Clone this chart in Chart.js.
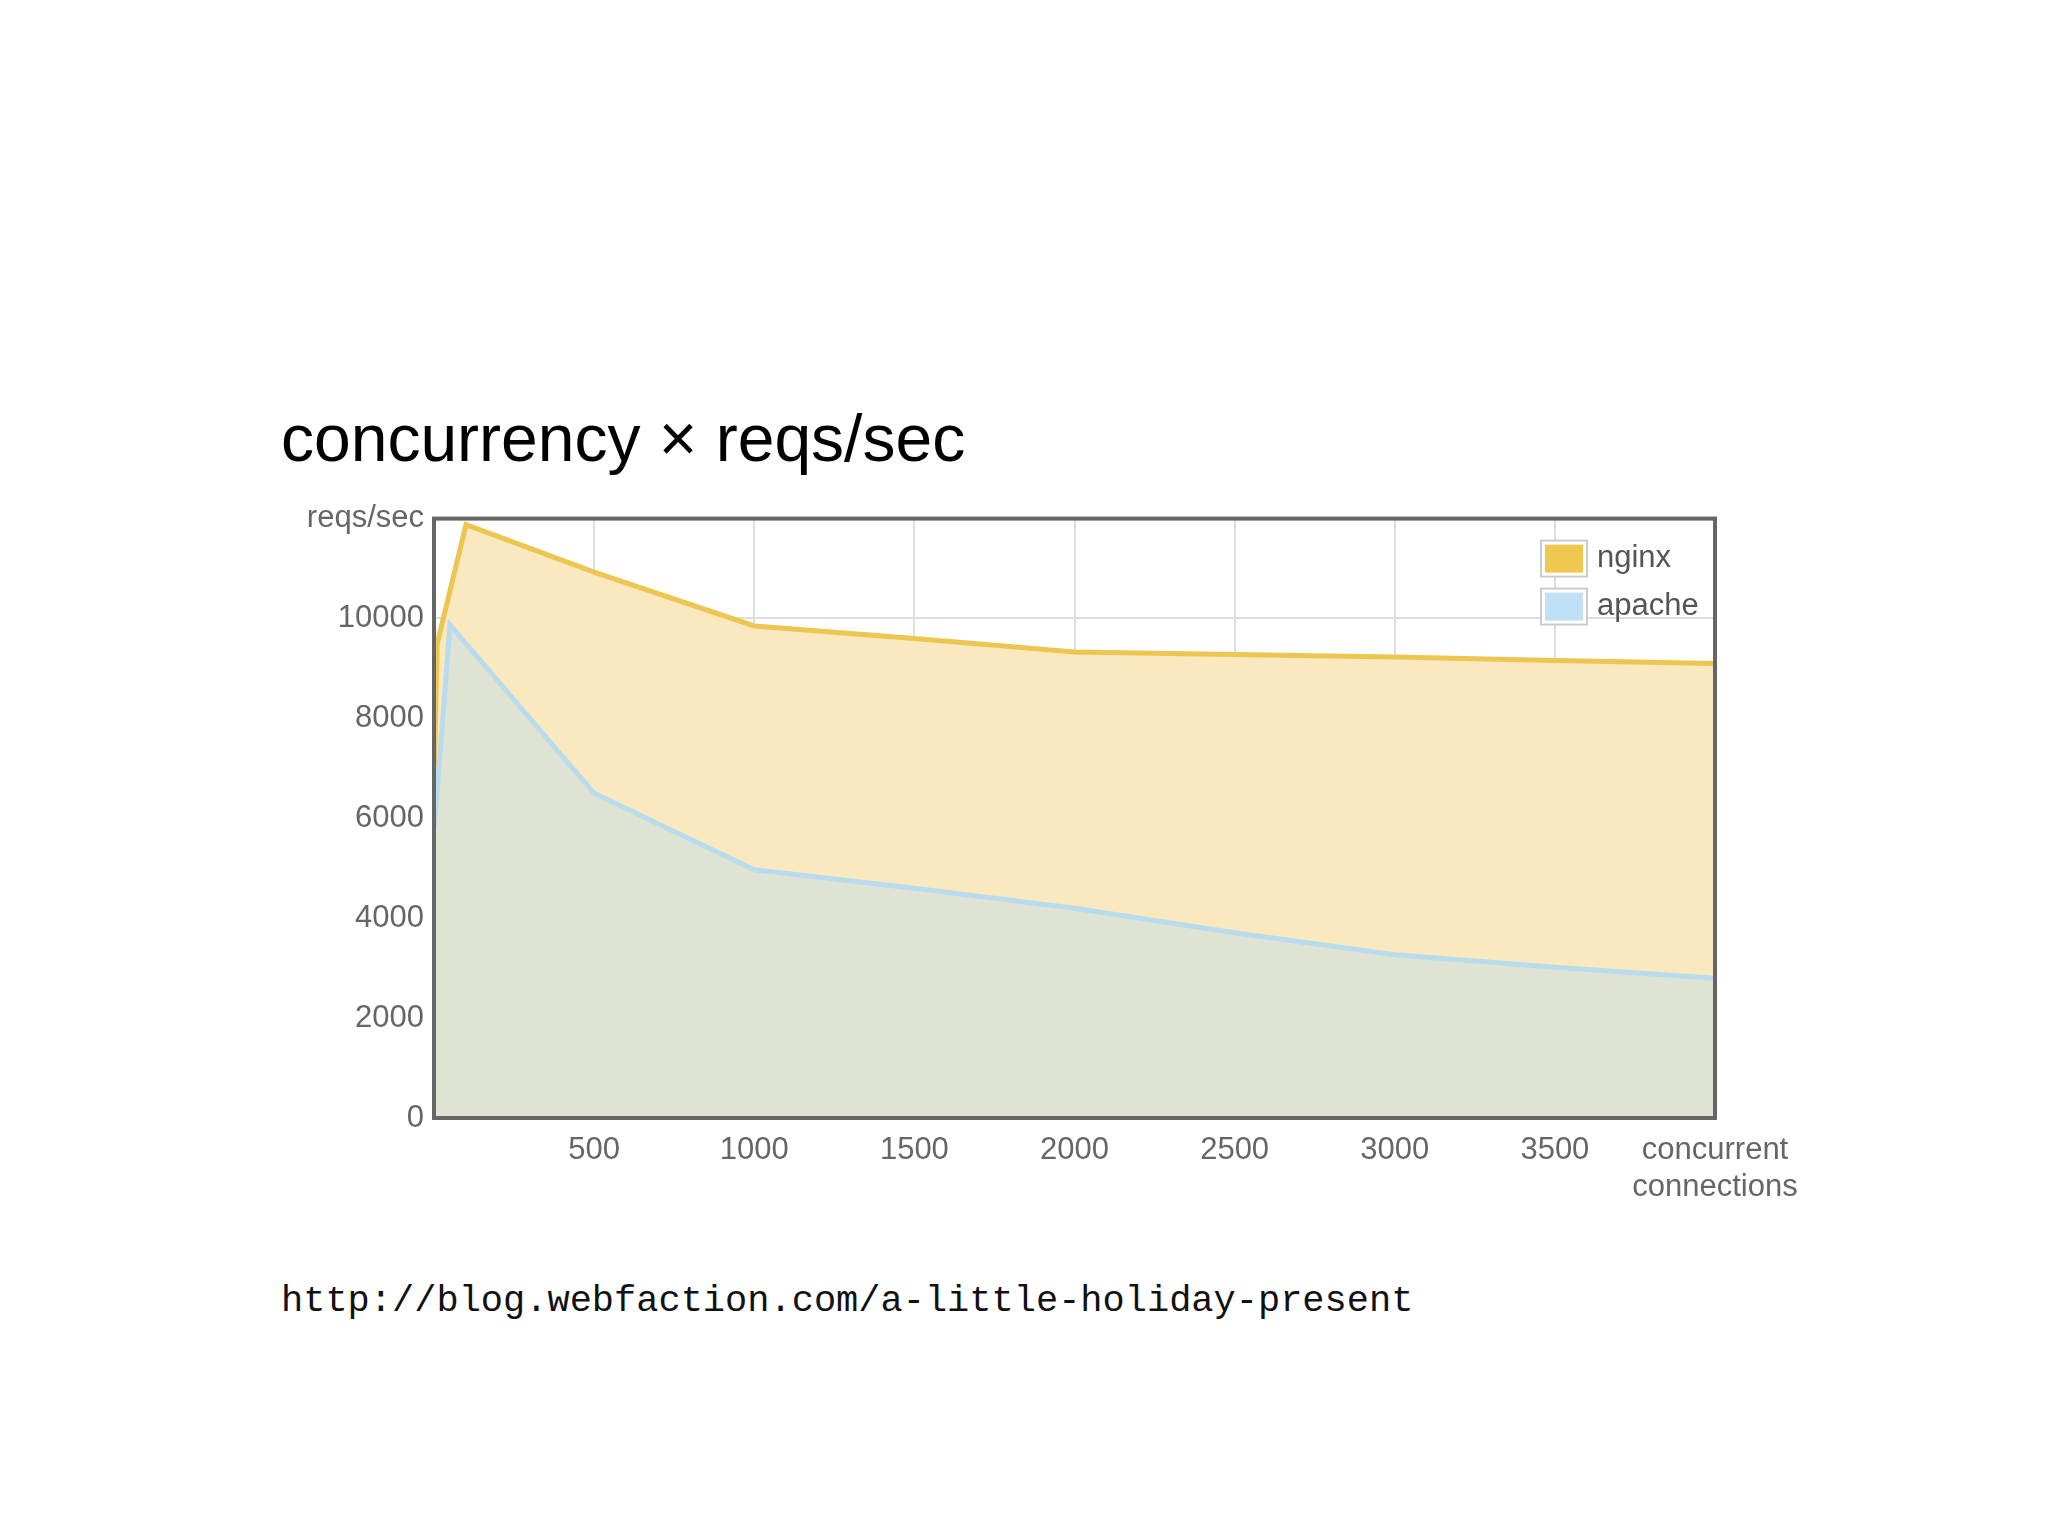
<!DOCTYPE html>
<html><head><meta charset="utf-8">
<script src="https://cdn.jsdelivr.net/npm/chart.js@4"></script>
<style>
body{margin:0;background:#fff;width:2048px;height:1536px;position:relative;overflow:hidden;font-family:"Liberation Sans",Arial,sans-serif}
#title{position:absolute;left:281px;top:400px;font-size:66px;color:#000}
#foot{position:absolute;left:281px;top:1280px;font-family:"Liberation Mono","DejaVu Sans Mono",monospace;font-size:37px;color:#111}
#wrap{position:absolute;left:250px;top:490px;width:1600px;height:740px}
</style></head><body>
<div id="title">concurrency × reqs/sec</div>
<div id="wrap"><canvas id="c" width="1600" height="740" style="width:1600px;height:740px"></canvas></div>
<div id="foot">http://blog.webfaction.com/a-little-holiday-present</div>
<script>
const connections = [1, 10, 100, 500, 1000, 1500, 2000, 2500, 3000, 3500, 4000];
const nginx = [7000, 9500, 11880, 10930, 9850, 9600, 9330, 9280, 9230, 9160, 9100];
const apacheX = [1, 50, 500, 1000, 1500, 2000, 2500, 3000, 3500, 4000];
const apache = [5820, 9870, 6500, 4970, 4600, 4200, 3710, 3270, 3020, 2800];
const yTicks = [0, 2000, 4000, 6000, 8000, 10000];
const xTicks = [500, 1000, 1500, 2000, 2500, 3000, 3500, 4000];

const legendPlugin = {
  id:'lg',
  afterDraw(ch){
    const c=ch.ctx, a=ch.chartArea;
    const items=[['nginx','#f0c850'],['apache','#bfe0f7']];
    c.save();
    c.font='31px "Liberation Sans", Arial, sans-serif';
    c.textBaseline='middle';
    items.forEach((it,i)=>{
      const x=a.right-170, y=a.top+40+i*48;
      c.fillStyle='#fff'; c.fillRect(x-4,y-18,46,36);
      c.strokeStyle='#ccc'; c.lineWidth=2; c.strokeRect(x-4,y-18,46,36);
      c.fillStyle=it[1]; c.fillRect(x,y-14,38,28);
      c.fillStyle='#555'; c.fillText(it[0],x+52,y);
    });
    c.restore();
  }
};
const borderPlugin={id:'bd',afterDraw(ch){const c=ch.ctx,a=ch.chartArea;c.save();c.strokeStyle='#666';c.lineWidth=4;c.strokeRect(a.left,a.top,a.right-a.left,a.bottom-a.top);c.restore();}};

new Chart(document.getElementById('c'),{
  type:'line',
  data:{datasets:[
    {label:'apache',data:apacheX.map((x,i)=>({x,y:apache[i]})),borderColor:'#b8dcee',backgroundColor:'#dfe3d3',fill:'origin',borderWidth:5,pointRadius:0,tension:0,order:0},
    {label:'nginx',data:connections.map((x,i)=>({x,y:nginx[i]})),borderColor:'#ecc650',backgroundColor:'#fae8bf',fill:'origin',borderWidth:5,pointRadius:0,tension:0,order:1}
  ]},
  plugins:[legendPlugin,borderPlugin],
  options:{
    responsive:false,animation:false,devicePixelRatio:1,
    layout:{padding:{top:19,right:135,left:0,bottom:0}},
    plugins:{legend:{display:false},tooltip:{enabled:false}},
    scales:{
      x:{type:'linear',min:0,max:4000,
        afterBuildTicks(s){s.ticks=xTicks.map(v=>({value:v}));},
        afterFit(s){s.height=112;},
        grid:{color:'#dedede',lineWidth:2,drawTicks:false},border:{display:false},
        ticks:{color:'#666',font:{size:31,family:'"Liberation Sans", Arial'},padding:14,maxRotation:0,autoSkip:false,
          callback:v=>v===4000?['concurrent','connections']:String(v)}},
      y:{min:0,max:12000,
        afterBuildTicks(s){s.ticks=yTicks.concat([12000]).map(v=>({value:v}));},
        afterFit(s){s.width=184;},
        grid:{color:'#dedede',lineWidth:2,drawTicks:false},border:{display:false},
        ticks:{color:'#666',font:{size:31,family:'"Liberation Sans", Arial'},padding:10,
          callback:v=>v===12000?'reqs/sec':String(v)}}
    }
  }
});
</script>
</body></html>
